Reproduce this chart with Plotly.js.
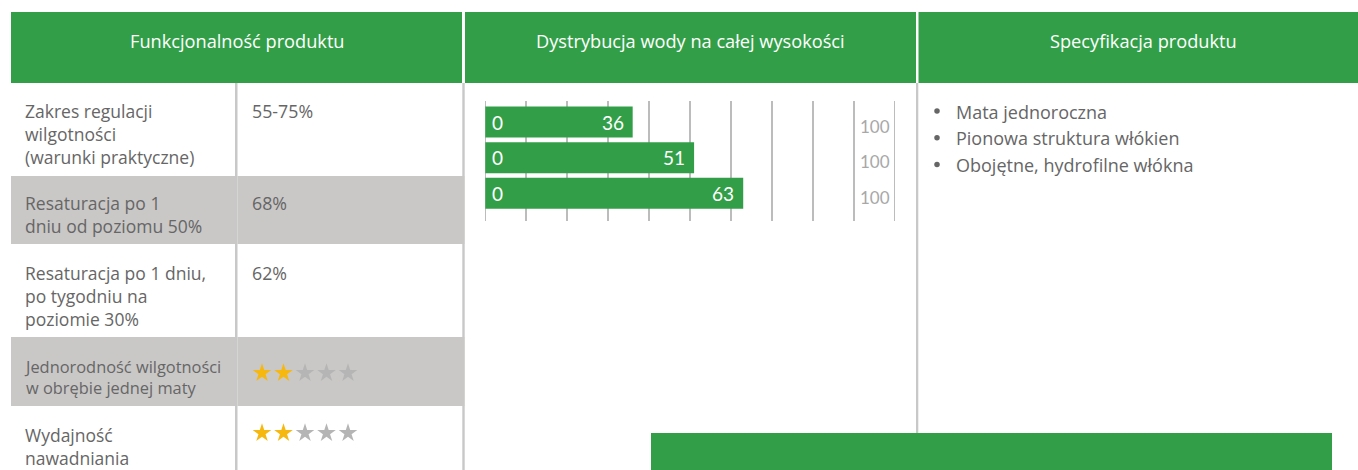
<!DOCTYPE html>
<html>
<head>
<meta charset="utf-8">
<script src="https://cdn.plot.ly/plotly-3.0.1.min.js"></script>
<style>html,body{margin:0;padding:0;background:#fff;}#chart{width:1358px;height:470px;}</style>
</head>
<body>
<div id="chart"></div>
<script>
// ---- data ----
const headers = ['Funkcjonalność produktu', 'Dystrybucja wody na całej wysokości', 'Specyfikacja produktu'];
const rowLabels = [
  ['Zakres regulacji', 'wilgotności', '(warunki praktyczne)'],
  ['Resaturacja po 1', 'dniu od poziomu 50%'],
  ['Resaturacja po 1 dniu,', 'po tygodniu na', 'poziomie 30%'],
  ['Jednorodność wilgotności', 'w obrębie jednej maty'],
  ['Wydajność', 'nawadniania']
];
const rowValues = ['55-75%', '68%', '62%', '', ''];
const starRatings = [0, 0, 0, 2, 2];
const starMax = 5;
const categories = ['Poziom 1', 'Poziom 2', 'Poziom 3'];
const distValues = [36, 51, 63];
const distMin = [0, 0, 0];
const distMax = [100, 100, 100];
const specs = ['Mata jednoroczna', 'Pionowa struktura włókien', 'Obojętne, hydrofilne włókna'];

// ---- style / layout geometry ----
const W = 1358, H = 470;
const GREEN = '#329f48', GREY = '#c9c8c6', LINE = '#c8c8c8', TXT = '#666666';
const FONT = '"Open Sans", Lato, sans-serif';
const NUMFONT = 'Lato, "Open Sans", sans-serif';
const rowTops = [83, 176, 245, 337, 408];
const rowBottoms = [175, 244, 336, 406, 470];
const firstLine = [111, 203, 273, 366, 435];
const greyRows = [1, 3];
const colX = [11, 235, 237.5, 464.3];

const shapes = [];
const rect = (x0, y0, x1, y1, color) => shapes.push({type: 'rect', xref: 'x', yref: 'y', x0, y0, x1, y1, fillcolor: color, line: {width: 0}, layer: 'below'});
// header band
rect(11, 12, W, 83, GREEN);
rect(462, 12, 465, 83, '#ffffff');
rect(916, 12, 918.5, 83, '#ffffff');
// vertical separators
rect(235, 83, 237.5, H, LINE);
rect(462.3, 83, 464.7, H, LINE);
rect(916, 83, 918.3, 433, LINE);
// grey rows
greyRows.forEach(r => {
  rect(colX[0], rowTops[r], colX[1], rowBottoms[r], GREY);
  rect(colX[2], rowTops[r], colX[3], rowBottoms[r], GREY);
});
// bottom green band
rect(651, 433, 1332, H, GREEN);

const annotations = [];
const headerCenters = [237, 690, 1143];
headers.forEach((h, i) => annotations.push({xref: 'x', yref: 'y', x: headerCenters[i], y: 41, text: h, showarrow: false,
  xanchor: 'center', yanchor: 'middle', font: {family: FONT, size: 18.2, color: '#ffffff'}}));

rowLabels.forEach((lines, i) => {
  const size = i === 3 ? 16.4 : 17.5;
  const gap = 1.3 * size;
  annotations.push({xref: 'x', yref: 'y', x: i === 3 ? 21.5 : 23, y: firstLine[i] + (lines.length - 1) * gap / 2, text: lines.join('<br>'),
    showarrow: false, align: 'left', xanchor: 'left', yanchor: 'middle', font: {family: FONT, size, color: TXT}});
  if (rowValues[i]) annotations.push({xref: 'x', yref: 'y', x: 250, y: firstLine[i], text: rowValues[i], showarrow: false,
    xanchor: 'left', yanchor: 'middle', font: {family: FONT, size: 17.8, color: TXT}});
});

// specification list (text + bullet markers)
const bulletX = [], bulletY = [];
specs.forEach((s, i) => {
  bulletX.push(937); bulletY.push(111 + i * 26.7);
  annotations.push({xref: 'x', yref: 'y', x: 954, y: 111.5 + i * 26.7, text: s, showarrow: false,
    xanchor: 'left', yanchor: 'middle', font: {family: FONT, size: 18, color: TXT}});
});

// stars
const starX = [], starY = [], starC = [];
const starRowCenters = [0, 0, 0, 373, 433];
starRatings.forEach((r, i) => {
  if (!r) return;
  for (let k = 0; k < starMax; k++) {
    starX.push(262 + k * 21.5); starY.push(starRowCenters[i]);
    starC.push(k < r ? '#f6b80f' : '#b5b5b5');
  }
});

// bar labels
distValues.forEach((v, i) => {
  annotations.push({xref: 'x2', yref: 'y2', x: distMin[i], y: categories[i], text: String(distMin[i]), showarrow: false,
    xanchor: 'left', xshift: 5, font: {family: NUMFONT, size: 19, color: '#ffffff'}});
  annotations.push({xref: 'x2', yref: 'y2', x: v, y: categories[i], text: String(v), showarrow: false,
    xanchor: 'right', xshift: -7, font: {family: NUMFONT, size: 19, color: '#ffffff'}});
  annotations.push({xref: 'x2', yref: 'y2', x: distMax[i], y: categories[i], text: String(distMax[i]), showarrow: false,
    xanchor: 'right', xshift: -3, yshift: -4, font: {family: NUMFONT, size: 17, color: '#a8a8a8'}});
});

const traces = [
  {type: 'scatter', mode: 'markers', x: starX, y: starY, xaxis: 'x', yaxis: 'y', hoverinfo: 'skip',
   marker: {symbol: 'star', size: 14, color: starC, line: {width: 0}}},
  {type: 'scatter', mode: 'markers', x: bulletX, y: bulletY, xaxis: 'x', yaxis: 'y', hoverinfo: 'skip',
   marker: {symbol: 'circle', size: 5.5, color: TXT, line: {width: 0}}},
  {type: 'bar', orientation: 'h', x: distValues, y: categories, base: distMin, xaxis: 'x2', yaxis: 'y2',
   marker: {color: GREEN, line: {width: 0}}, width: 0.87, hoverinfo: 'skip'}
];

const px0 = 485.3, px100 = 894.7, ppu = (px100 - px0) / 100;
const layout = {
  width: W, height: H, margin: {l: 0, r: 0, t: 0, b: 0, pad: 0},
  paper_bgcolor: '#ffffff', plot_bgcolor: 'rgba(0,0,0,0)', showlegend: false,
  xaxis: {domain: [0, 1], range: [0, W], visible: false, fixedrange: true},
  yaxis: {domain: [0, 1], range: [H, 0], visible: false, fixedrange: true},
  xaxis2: {domain: [(px0 - 0.4 * ppu) / W, (px100 + 0.4 * ppu) / W], range: [-0.4, 100.4], anchor: 'y2',
    showgrid: true, gridcolor: '#bcbcbc', gridwidth: 1.5, dtick: 10, tick0: 0, zeroline: false,
    showticklabels: false, ticks: '', showline: false, fixedrange: true},
  yaxis2: {domain: [1 - 221 / H, 1 - 101 / H], range: [2.777, -0.589], anchor: 'x2', type: 'category',
    showgrid: false, zeroline: false, showticklabels: false, ticks: '', showline: false, fixedrange: true},
  shapes, annotations
};

Plotly.newPlot('chart', traces, layout, {displayModeBar: false, staticPlot: true});
</script>
</body>
</html>
